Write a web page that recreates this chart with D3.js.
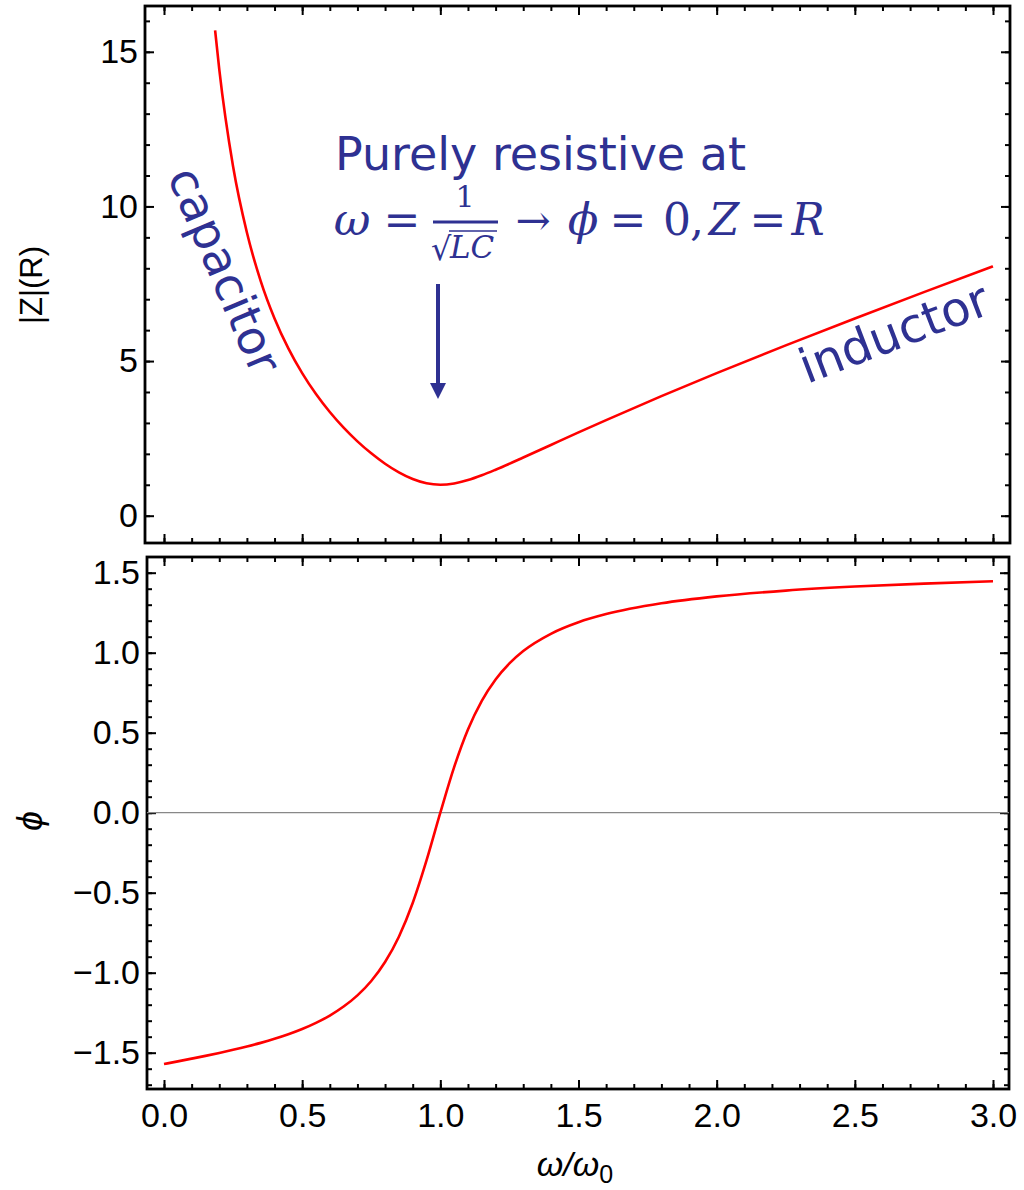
<!DOCTYPE html>
<meta charset="utf-8">
<script src="https://d3js.org/d3.v7.min.js"></script>
<style>
  body { margin: 0; background: #fff; }
</style>
<div id="chart"></div>
<script>

  // |Z| in units of R
  var omegaZ = [0.185, 0.2, 0.25, 0.3, 0.35, 0.4, 0.45, 0.5, 0.55, 0.6, 0.65, 0.7, 0.75, 0.8, 0.85, 0.9, 0.95, 1.0,
                1.05, 1.1, 1.15, 1.2, 1.3, 1.4, 1.5, 1.6, 1.8, 2.0, 2.25, 2.5, 2.75, 3.0];
  var zValues = [15.69, 14.43, 11.29, 9.155, 7.588, 6.379, 5.410, 4.610, 3.934, 3.353, 2.847, 2.404, 2.016, 1.680, 1.400, 1.184, 1.046, 1.0,
                 1.042, 1.152, 1.307, 1.487, 1.880, 2.287, 2.693, 3.091, 3.865, 4.610, 5.508, 6.379, 7.229, 8.062];

  // phase
  var omegaPhi = [0, 0.05, 0.1, 0.15, 0.2, 0.25, 0.3, 0.35, 0.4, 0.45, 0.5, 0.55, 0.6, 0.65, 0.7, 0.75, 0.8, 0.85, 0.9, 0.95, 1.0,
                  1.05, 1.1, 1.15, 1.2, 1.25, 1.3, 1.4, 1.5, 1.6, 1.8, 2.0, 2.25, 2.5, 2.75, 3.0];
  var phiValues = [-1.5708, -1.5541, -1.5371, -1.5197, -1.5015, -1.4821, -1.4614, -1.4386, -1.4134, -1.3849, -1.3521, -1.3137, -1.2679,
                   -1.2117, -1.1417, -1.0517, -0.9332, -0.7750, -0.5646, -0.2987, 0,
                   0.2849, 0.5203, 0.6994, 0.8330, 0.9332, 1.0103, 1.1182, 1.1903, 1.2412, 1.3089, 1.3521, 1.3882, 1.4134, 1.4320, 1.4464];

  // tick labels
  var xTicks = [0, 0.5, 1.0, 1.5, 2.0, 2.5, 3.0];
  var zTicks = [0, 5, 10, 15];
  var phiTicks = [-1.5, -1.0, -0.5, 0, 0.5, 1.0, 1.5];

  var blue = "#2e3192";
  var tickFont = "'Liberation Sans', Arial, sans-serif";

  var svg = d3.select("#chart")
    .append("svg")
      .attr("width", 1024)
      .attr("height", 1190);

  // frames of the two panels
  var topBox = {left: 145, right: 1010, top: 6, bottom: 543};
  var botBox = {left: 147, right: 1009, top: 557, bottom: 1089};

  // scales
  var x = d3.scaleLinear().domain([0, 3]).range([164, 993]);
  var yZ = d3.scaleLinear().domain([0, 15]).range([515.7, 51.8]);
  var yPhi = d3.scaleLinear().domain([-1.5, 1.5]).range([1052.7, 572.7]);

  var xMinor = x.ticks(30);

  function addAxis(g, axis, tx, ty, size, values, fmt, pad) {
    var a = g.append("g")
      .attr("transform", "translate(" + tx + "," + ty + ")")
      .call(axis.tickValues(values).tickSize(size).tickPadding(pad || 3).tickFormat(fmt));
    a.select(".domain").remove();
    a.selectAll("line").attr("stroke", "#000").attr("stroke-width", 2);
    a.attr("font-family", tickFont).attr("font-size", 34);
    a.selectAll("text").attr("fill", "#000");
    return a;
  }

  function framePanel(box, y, yMajor, yMinor, yFmt, showX) {
    var g = svg.append("g");
    var none = function() { return ""; };
    // bottom + top
    addAxis(g, d3.axisBottom(x), 0, box.bottom, -5, xMinor, none);
    addAxis(g, d3.axisBottom(x), 0, box.bottom, -9, xTicks, showX ? d3.format(".1f") : none, 14);
    addAxis(g, d3.axisTop(x), 0, box.top, -5, xMinor, none);
    addAxis(g, d3.axisTop(x), 0, box.top, -9, xTicks, none);
    // left + right
    addAxis(g, d3.axisLeft(y), box.left, 0, -5, yMinor, none);
    addAxis(g, d3.axisLeft(y), box.left, 0, -9, yMajor, yFmt, 7);
    addAxis(g, d3.axisRight(y), box.right, 0, -5, yMinor, none);
    addAxis(g, d3.axisRight(y), box.right, 0, -9, yMajor, none);
    g.append("rect")
      .attr("x", box.left)
      .attr("y", box.top)
      .attr("width", box.right - box.left)
      .attr("height", box.bottom - box.top)
      .attr("fill", "none")
      .attr("stroke", "#000")
      .attr("stroke-width", 2.8);
  }

  framePanel(topBox, yZ, zTicks, d3.range(0, 17), d3.format("d"), false);
  framePanel(botBox, yPhi, phiTicks, d3.range(-17, 16).map(function(d) { return d / 10; }), d3.format(".1f"), true);

  // phi = 0 axis line
  svg.append("line")
    .attr("x1", botBox.left).attr("x2", botBox.right)
    .attr("y1", yPhi(0)).attr("y2", yPhi(0))
    .attr("stroke", "#888")
    .attr("stroke-width", 1.3);

  // curves
  var zLine = d3.line()
    .x(function(d, i) { return x(omegaZ[i]); })
    .y(function(d) { return yZ(d); })
    .curve(d3.curveMonotoneX);
  svg.append("path")
    .attr("d", zLine(zValues))
    .attr("fill", "none")
    .attr("stroke", "#ff0000")
    .attr("stroke-width", 2.6);

  var phiLine = d3.line()
    .x(function(d, i) { return x(omegaPhi[i]); })
    .y(function(d) { return yPhi(d); })
    .curve(d3.curveMonotoneX);
  svg.append("path")
    .attr("d", phiLine(phiValues))
    .attr("fill", "none")
    .attr("stroke", "#ff0000")
    .attr("stroke-width", 2.6);

  // axis titles
  svg.append("text")
    .attr("transform", "translate(42,285) rotate(-90)")
    .attr("text-anchor", "middle")
    .attr("font-family", tickFont)
    .attr("font-size", 31)
    .text("|Z|(R)");

  svg.append("text")
    .attr("transform", "translate(42,821) rotate(-90)")
    .attr("text-anchor", "middle")
    .attr("font-family", tickFont)
    .attr("font-style", "italic")
    .attr("font-size", 36)
    .text("\u03d5");

  var xt = svg.append("text")
    .attr("x", 575)
    .attr("y", 1176)
    .attr("text-anchor", "middle")
    .attr("font-family", tickFont)
    .attr("font-style", "italic")
    .attr("font-size", 34);
  xt.append("tspan").text("\u03c9/\u03c9");
  xt.append("tspan").attr("dy", 7).attr("font-size", 25).attr("font-style", "normal").text("0");

  // annotations
  var ann = svg.append("g").attr("fill", blue);
  var sansAnn = "'DejaVu Sans', Verdana, sans-serif";
  var serif = "'DejaVu Serif', 'Liberation Serif', serif";

  ann.append("text")
    .attr("x", 335).attr("y", 170)
    .attr("font-family", sansAnn).attr("font-size", 46)
    .text("Purely resistive at");

  function piece(txt, cx, by, size, italic, anchor) {
    ann.append("text")
      .attr("x", cx).attr("y", by)
      .attr("text-anchor", anchor || "middle")
      .attr("font-family", serif)
      .attr("font-style", italic ? "italic" : "normal")
      .attr("font-size", size)
      .text(txt);
  }
  piece("\u03c9", 352, 235, 45, true);
  piece("=", 402, 235, 44, false);
  piece("1", 465, 207, 30, false);
  piece("\u221a", 431, 260, 32, false, "start");
  piece("LC", 450, 258, 31, true, "start");
  piece("\u2192", 533, 235, 42, false);
  piece("\u03d5", 583, 235, 45, true);
  piece("=", 628, 235, 44, false);
  piece("0", 677, 235, 44, false);
  piece(",", 690, 235, 44, false, "start");
  piece("Z", 724, 235, 44, true);
  piece("=", 768, 235, 44, false);
  piece("R", 808, 235, 44, true);

  ann.append("line")
    .attr("x1", 433).attr("x2", 498)
    .attr("y1", 222).attr("y2", 222)
    .attr("stroke", blue).attr("stroke-width", 3);
  ann.append("line")
    .attr("x1", 449).attr("x2", 497)
    .attr("y1", 231).attr("y2", 231)
    .attr("stroke", blue).attr("stroke-width", 1.5);

  ann.append("text")
    .attr("transform", "translate(167,176) rotate(67)")
    .attr("font-family", sansAnn).attr("font-size", 47)
    .text("capacitor");

  ann.append("text")
    .attr("transform", "translate(807,384) rotate(-21)")
    .attr("font-family", sansAnn).attr("font-size", 48)
    .text("inductor");

  // arrow pointing at resonance
  ann.append("line")
    .attr("x1", 438).attr("x2", 438)
    .attr("y1", 284).attr("y2", 386)
    .attr("stroke", blue).attr("stroke-width", 4);
  ann.append("path")
    .attr("d", "M430,383 L446,383 L438,399 Z");

</script>
